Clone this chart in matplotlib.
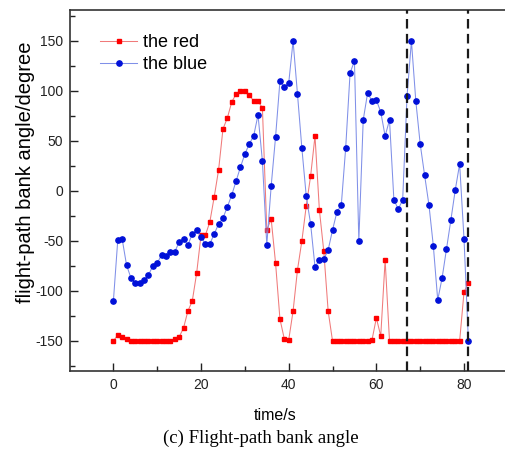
import numpy as np
import matplotlib
matplotlib.use("Agg")
import matplotlib.pyplot as plt

plt.rcParams["axes.unicode_minus"] = False

# time axis, one sample per second
time_s = np.arange(0, 82)

red_bank = [-150, -144, -146, -148,
            -150, -150, -150, -150, -150, -150, -150, -150, -150, -150,
            -148, -146, -137, -120, -110, -82, -44, -44, -31, -6,
            21, 62, 73, 89, 97, 100, 100, 96, 90, 90, 83,
            -39, -28, -72, -128, -148, -149, -120, -79, -50, -15, 15, 55,
            -19, -60, -120,
            -150, -150, -150, -150, -150, -150, -150, -150, -150,
            -149, -127, -145, -69,
            -150, -150, -150, -150, -150, -150, -150, -150, -150,
            -150, -150, -150, -150, -150, -150, -150, -150,
            -101, -92]

blue_bank = [-110, -49, -48, -74, -87, -92, -92, -89, -84, -75,
             -72, -64, -65, -61, -61, -51, -48, -54, -43, -39,
             -46, -53, -53, -43, -33, -27, -16, -4, 10, 24,
             37, 47, 55, 76, 30, -54, 5, 54, 110, 104,
             108, 150, 97, 43, -5, -33, -76, -69, -68, -59,
             -39, -21, -14, 43, 118, 130, -50, 71, 98, 90,
             91, 79, 55, 71, -9, -18, -9, 95, 150, 90,
             47, 16, -14, -55, -109, -87, -58, -29, 1, 27,
             -48, -150]

marker_times = [67, 81]
y_ticks = [-150, -100, -50, 0, 50, 100, 150]
x_ticks = [0, 20, 40, 60, 80]

W, H = 505, 449
fig = plt.figure(figsize=(W / 100, H / 100), dpi=100)
ax = fig.add_axes([70 / W, 1 - 371 / H, (W - 70) / W, 361 / H])

sans = ["Liberation Sans", "DejaVu Sans"]
serif = ["Liberation Serif", "DejaVu Serif"]

ax.plot(time_s, red_bank, color="#f07a7a", lw=0.75, marker="s", ms=3.0,
        mfc="red", mec="red", label="the red")
ax.plot(time_s, blue_bank, color="#8090e8", lw=0.75, marker="o", ms=3.8,
        mfc="#0010d8", mec="#0010d8", label="the blue")

for t in marker_times:
    ax.axvline(t, color="#1a1a1a", lw=1.6, dashes=(4.3, 2.4), zorder=5)

ax.set_xlim(-9.9, 89.35)
ax.set_ylim(-180, 181)
ax.set_xticks(x_ticks)
ax.set_xticks([10, 30, 50, 70], minor=True)
ax.set_yticks(y_ticks)
ax.set_yticks(np.arange(-175, 180, 50), minor=True)
ax.tick_params(which="both", direction="in", top=False, right=False,
               width=1, labelsize=10, pad=5, colors="#222222")
ax.tick_params(which="major", length=6)
ax.tick_params(which="minor", length=3.5)
for lab in ax.get_xticklabels() + ax.get_yticklabels():
    lab.set_family(sans)

ax.spines["right"].set_visible(False)
for s in ["left", "bottom", "top"]:
    ax.spines[s].set_linewidth(1.2)
    ax.spines[s].set_color("#333333")

leg = ax.legend(loc="upper left", bbox_to_anchor=(100 / W, 1 - 34 / H),
                bbox_transform=fig.transFigure, frameon=False, numpoints=1,
                borderpad=0, borderaxespad=0, handlelength=2.05,
                handletextpad=0.32, labelspacing=0.3,
                prop={"family": sans, "size": 13})

fig.text(25.7 / W, 1 - 172 / H, "flight-path bank angle/degree", rotation=90,
         ha="center", va="center", family=sans, fontsize=14.5)
fig.text(275 / W, 1 - 416 / H, "time/s", ha="center", va="center",
         family=sans, fontsize=11.5)
fig.text(261 / W, 1 - 438 / H, "(c) Flight-path bank angle", ha="center",
         va="center", family=serif, fontsize=13.5)

fig.savefig("out.png", dpi=100)
